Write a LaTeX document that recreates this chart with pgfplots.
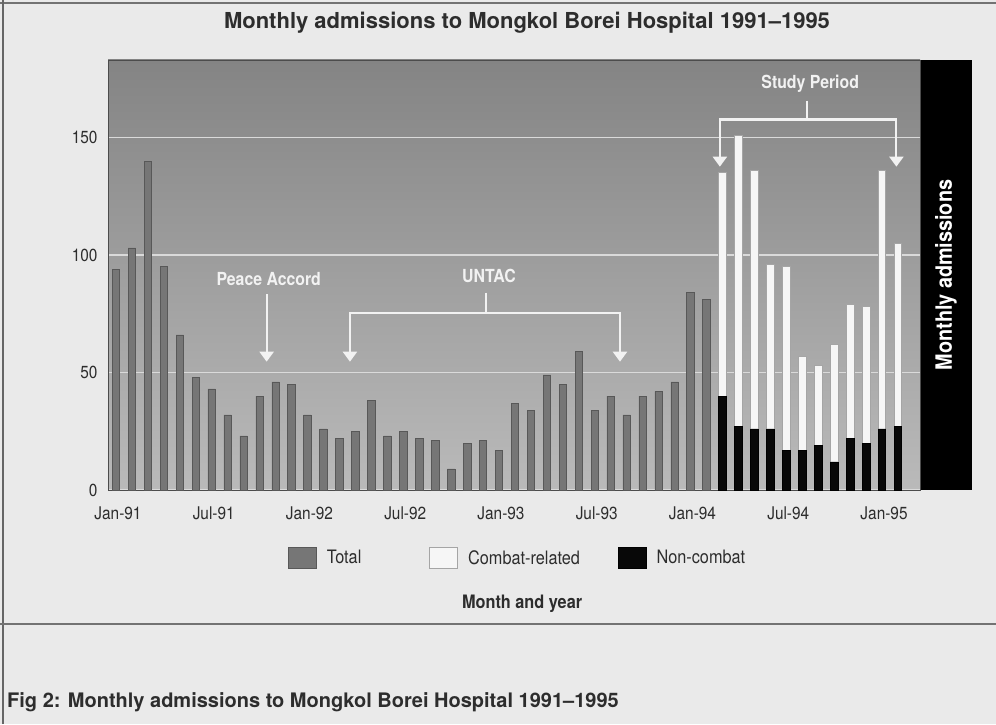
\documentclass[border=0pt]{standalone}
\usepackage{fontspec}
\setmainfont{TeX Gyre Heros}
\newfontfamily\cn[FakeStretch=0.88]{TeX Gyre Heros}
\usepackage{pgfplots}
\usepackage{pgfplotstable}
\pgfplotsset{compat=1.18}
\usetikzlibrary{arrows.meta}

\definecolor{bg}{RGB}{234,234,234}
\definecolor{plottop}{RGB}{132,132,132}
\definecolor{plotbot}{RGB}{186,186,186}
\definecolor{totalfill}{RGB}{118,118,118}
\definecolor{totaledge}{RGB}{88,88,88}
\definecolor{combfill}{RGB}{246,246,246}
\definecolor{combedge}{RGB}{165,165,165}
\definecolor{noncomb}{RGB}{8,8,8}
\definecolor{gridc}{RGB}{218,218,218}
\definecolor{txt}{RGB}{45,45,45}
\definecolor{anno}{RGB}{242,242,242}

\pgfplotstableread{
x total
0 94
1 103
2 140
3 95
4 66
5 48
6 43
7 32
8 23
9 40
10 46
11 45
12 32
13 26
14 22
15 25
16 38
17 23
18 25
19 22
20 21
21 9
22 20
23 21
24 17
25 37
26 34
27 49
28 45
29 59
30 34
31 40
32 32
33 40
34 42
35 46
36 84
37 81
}\totaltab

\pgfplotstableread{
x noncombat combat
38 40 95
39 27 124
40 26 110
41 26 70
42 17 78
43 17 40
44 19 34
45 12 50
46 22 57
47 20 58
48 26 110
49 27 78
}\studytab

\pgfplotsset{
  common/.style={
    at={(108pt,234pt)}, anchor=south west,
    scale only axis, width=812pt, height=430pt,
    xmin=-0.5, xmax=50.38, ymin=0, ymax=183,
    bar width=7.5pt,
  },
}
\tikzset{
  myarr/.style={-{Triangle[width=14pt,length=10pt]}},
  myarrs/.style={{Triangle[width=14pt,length=10pt]}-{Triangle[width=14pt,length=10pt]}},
  annolab/.style={text=anno, font=\cn\bfseries\fontsize{18}{21}\selectfont},
}

\begin{document}
\begin{tikzpicture}[x=1pt,y=1pt]
\useasboundingbox (0,0) rectangle (996,724);
\fill[bg] (0,0) rectangle (996,724);
\draw[line width=1.2pt, black!55] (0,721) -- (996,721);
\draw[line width=2pt, black!60] (3,0) -- (3,724);
\draw[line width=2pt, black!55] (0,100) -- (996,100);

% black band at right
\fill[black] (920,234) rectangle (972,664);
\node[rotate=90, white, font=\cn\bfseries\fontsize{22.5}{26}\selectfont] at (946,449) {Monthly admissions};

% title and caption
\node[anchor=base, text=txt, font=\bfseries\fontsize{22}{26}\selectfont] at (527,695) {Monthly admissions to Mongkol Borei Hospital 1991–1995};
\node[anchor=base west, inner sep=0pt, text=txt, font=\bfseries\fontsize{20}{24}\selectfont] at (7,17) {Fig 2: Monthly admissions to Mongkol Borei Hospital 1991–1995};

\begin{axis}[
  common,
  axis background/.style={top color=plottop, bottom color=plotbot},
  ytick={0,50,100,150},
  ymajorgrids,
  major grid style={gridc, line width=1.3pt},
  xtick={0,6,12,18,24,30,36,42,48},
  xticklabels={Jan-91,Jul-91,Jan-92,Jul-92,Jan-93,Jul-93,Jan-94,Jul-94,Jan-95},
  major tick length=0pt,
  /pgf/number format/assume math mode=true,
  tick label style={font=\cn\fontsize{17.5}{20}\selectfont, text=txt},
  yticklabel style={xshift=-7pt},
  xticklabel style={yshift=-13pt, xshift=2pt},
  axis line style={black!70, line width=0.9pt},
  xlabel={Month and year},
  xlabel style={at={(axis description cs:0.51,-0.265)}, anchor=center,
    font=\cn\bfseries\fontsize{18.5}{22}\selectfont, text=txt},
  legend columns=3,
  legend style={at={(axis description cs:0.2217,-0.158)}, anchor=west,
    draw=none, fill=none, inner sep=0pt,
    font=\cn\fontsize{18.5}{22}\selectfont, text=txt,
    /tikz/every even column/.style={column sep=0pt},
    /tikz/every odd column/.style={column sep=0pt}},
  legend cell align=left,
  legend image code/.code={\draw[#1] (0pt,-10.5pt) rectangle (28pt,10.5pt);},
]
\addplot[ybar, bar shift=0pt, fill=totalfill, draw=totaledge, line width=0.6pt]
  table[x=x, y=total] {\totaltab};
\addlegendentry{\hspace*{8pt}Total\hspace*{66pt}}
\addlegendimage{fill=combfill, draw=combedge, line width=0.8pt}
\addlegendentry{\hspace*{8pt}Combat-related\hspace*{36pt}}
\addlegendimage{fill=noncomb, draw=black, line width=0.6pt}
\addlegendentry{\hspace*{8pt}Non-combat}
\end{axis}

\begin{axis}[
  common,
  hide axis,
  ybar stacked,
  clip=false,
]
\addplot[fill=noncomb, draw=black, line width=0.6pt]
  table[x=x, y=noncombat] {\studytab};
\addplot[fill=combfill, draw=combedge, line width=0.6pt]
  table[x=x, y=combat] {\studytab};

% annotations
\node[annolab] at (axis cs:9.57,90) {Peace Accord};
\draw[anno, line width=2.2pt, myarr] (axis cs:9.44,83.4) -- (axis cs:9.44,54.6);

\node[annolab] at (axis cs:23.37,91) {UNTAC};
\draw[anno, line width=2.2pt] (axis cs:23.18,84) -- (axis cs:23.18,75.4);
\draw[anno, line width=2.2pt, myarrs, line join=miter] (axis cs:14.66,54.6) -- (axis cs:14.66,75.4) -- (axis cs:31.58,75.4) -- (axis cs:31.58,54.6);

\node[annolab] at (axis cs:43.5,173) {Study Period};
\draw[anno, line width=2.2pt] (axis cs:43.3,165.7) -- (axis cs:43.3,157.7);
\draw[anno, line width=2.2pt, myarrs, line join=miter] (axis cs:37.84,137.6) -- (axis cs:37.84,157.7) -- (axis cs:48.9,157.7) -- (axis cs:48.9,137.6);
\end{axis}
\end{tikzpicture}
\end{document}
